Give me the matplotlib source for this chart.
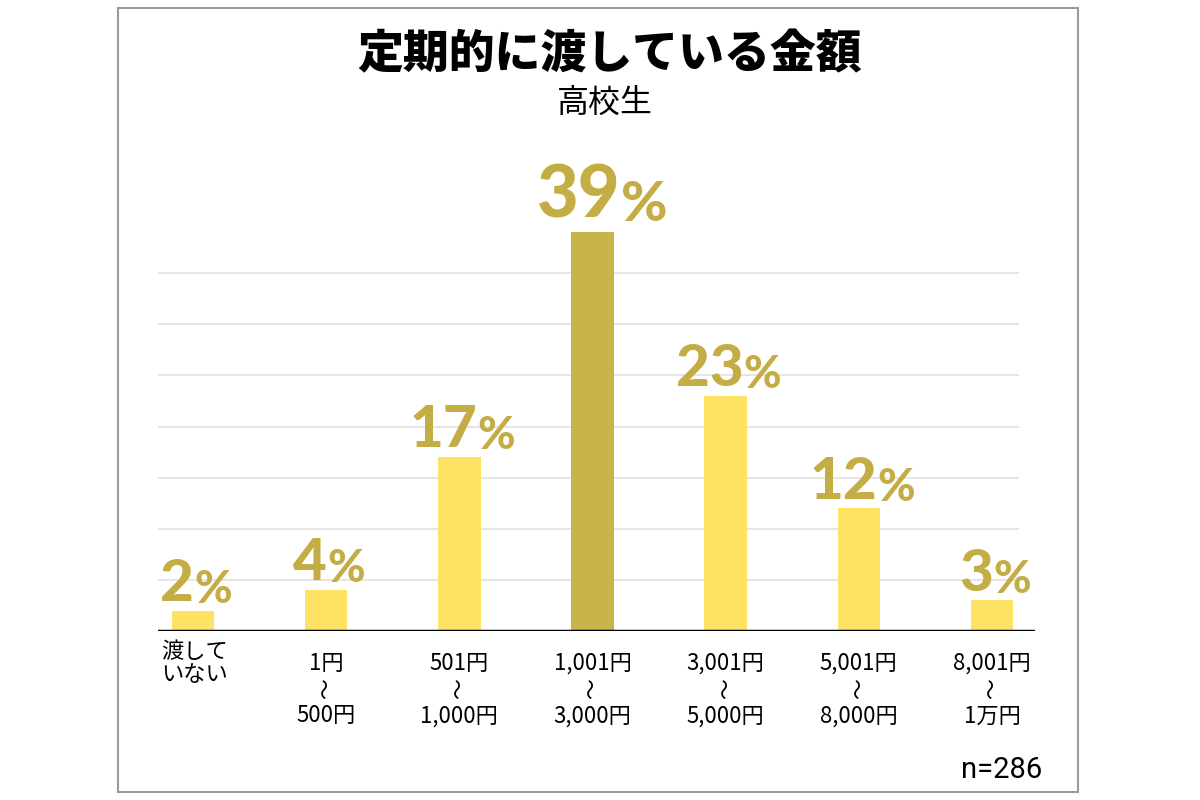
import matplotlib.pyplot as plt
from matplotlib.patches import Rectangle
from matplotlib.transforms import blended_transform_factory

plt.rcParams['font.family'] = ['Noto Sans CJK JP', 'DejaVu Sans']

# ==================== Data ====================
categories_top = ["渡して", "1円", "501円", "1,001円", "3,001円", "5,001円", "8,001円"]
categories_bottom = ["いない", "500円", "1,000円", "3,000円", "5,000円", "8,000円", "1万円"]
values = [2, 4, 17, 39, 23, 12, 3]
highlight = 3
grid_levels = [5, 10, 15, 20, 25, 30, 35]

LIGHT = "#FEE263"
DARK = "#C9B34B"
LABEL = "#C4AD45"

# ==================== Figure ====================
fig = plt.figure(figsize=(12, 8), dpi=100)
fig.patch.set_facecolor("white")

# outer frame
fig.patches.append(Rectangle((118 / 1200, 8 / 800), 960 / 1200, 784 / 800,
                             transform=fig.transFigure, fill=False,
                             edgecolor="#9a9a9a", linewidth=1.5))

ax = fig.add_axes([158 / 1200, 1 - 631 / 800, 877 / 1200, 460 / 800])
x = list(range(len(values)))
colors = [DARK if i == highlight else LIGHT for i in x]
ax.bar(x, values, width=0.32, color=colors, zorder=2)

ax.set_xlim(-0.263, 6.323)
ax.set_ylim(0, 45)
ax.hlines(grid_levels, -0.263, 6.2, colors="#e3e3e3", linewidth=1.3, zorder=1)
ax.axhline(0, color="black", linewidth=2.5, zorder=3)
for s in ax.spines.values():
    s.set_visible(False)
ax.set_xticks([])
ax.set_yticks([])

# value labels: number + smaller %, the pair roughly centred on the bar
labels = []
for i, v in enumerate(values):
    big = i == highlight
    size = 52 if big else 42
    num = ax.annotate(str(v), xy=(i, v), xytext=(0, 11 if big else 7),
                      textcoords="offset points", ha="center", va="baseline",
                      fontsize=size, fontfamily="Lato",
                      fontweight="black", color=LABEL, zorder=4)
    pct = ax.annotate("%", xy=(1, 0), xycoords=num, xytext=(0, 0),
                      textcoords="offset points", ha="left", va="bottom",
                      fontsize=size * 0.78, fontfamily="Lato",
                      fontweight="black", color=LABEL)
    labels.append((num, pct, big))

fig.canvas.draw()
renderer = fig.canvas.get_renderer()
for num, pct, big in labels:
    w = pct.get_window_extent(renderer).width
    shift_px = -w / 2 + (10 if big else 3)
    num.xyann = (shift_px * 72 / 100, num.xyann[1])

# category labels
tr = blended_transform_factory(ax.transData, fig.transFigure)
ax.text(-0.24, 1 - 663 / 800, categories_top[0] + "\n" + categories_bottom[0],
        transform=tr, ha="left", va="center", fontsize=16, linespacing=0.95)
for i in x[1:]:
    ax.text(i, 1 - 663 / 800, categories_top[i], transform=tr,
            ha="center", va="center", fontsize=16)
    ax.text(i, 1 - 689 / 800, "〜", transform=tr, rotation=90,
            ha="center", va="center", fontsize=15)
    ax.text(i, 1 - 716 / 800, categories_bottom[i], transform=tr,
            ha="center", va="center", fontsize=16)

# titles
fig.text(610 / 1200, 1 - 55 / 800, "定期的に渡している金額", ha="center", va="center",
         fontsize=33, fontweight="heavy")
fig.text(605 / 1200, 1 - 103 / 800, "高校生", ha="center", va="center", fontsize=23)
fig.text(1042 / 1200, 1 - 770 / 800, "n=286", ha="right", va="center",
         fontsize=21, fontfamily="Roboto")

fig.savefig("out.png", dpi=100)
